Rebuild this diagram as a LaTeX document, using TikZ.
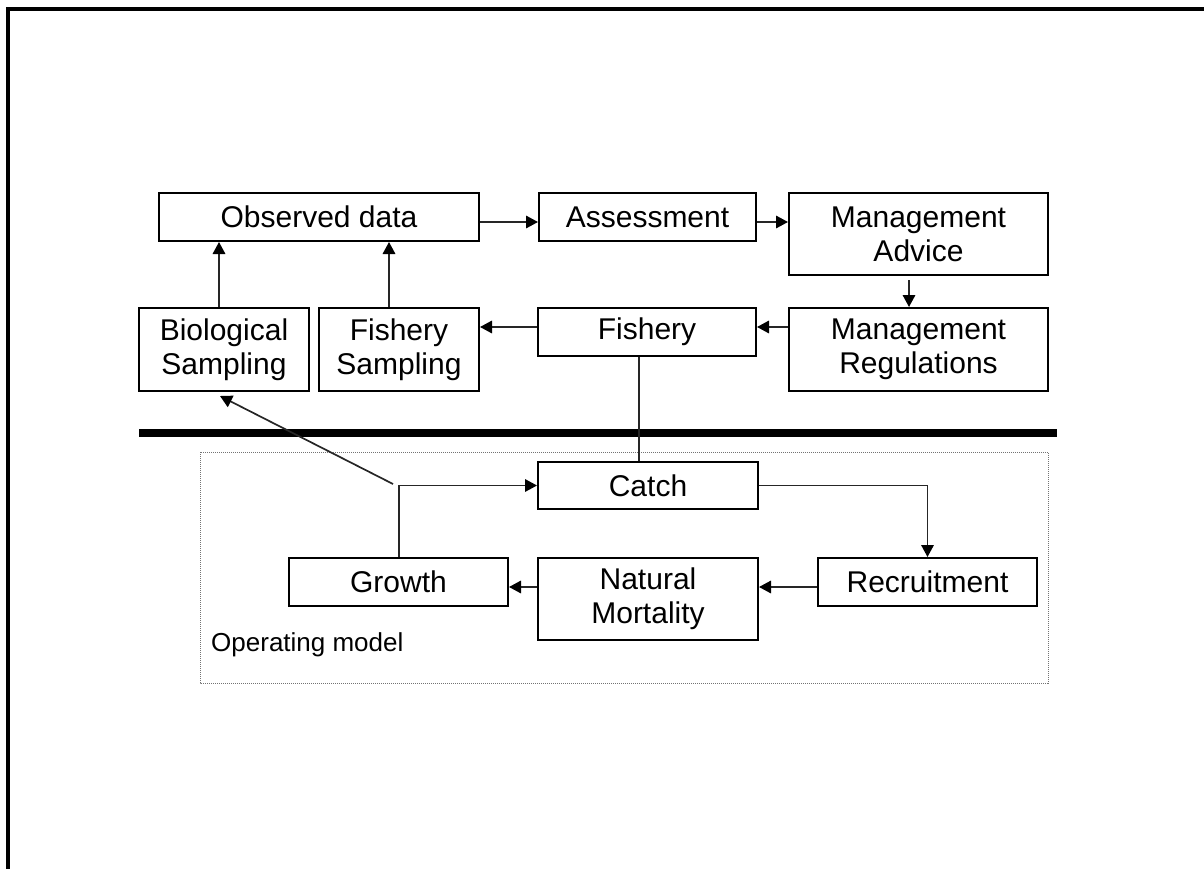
\documentclass[tikz,border=0pt]{standalone}
\usepackage{fontspec}
\setmainfont{Liberation Sans}
\usetikzlibrary{arrows.meta}
\begin{document}
\begin{tikzpicture}[x=1pt,y=-1pt,
  box/.style={draw,line width=2pt,inner sep=0pt,align=center,
    font=\fontsize{30}{34}\selectfont},
  conn/.style={line width=1.7pt,draw=black!85,-{Triangle[length=12pt,width=12.5pt,fill=black,color=black]}},
  plain/.style={line width=1.7pt,draw=black!85}]
\useasboundingbox (0,0) rectangle (1204,869);
% frame
\draw[line width=4pt,line join=miter] (8,869) -- (8,8.7) -- (1204,8.7);
% nodes
\node[box,minimum width=320pt,minimum height=48pt] (obs) at (319,217) {Observed data};
\node[box,minimum width=217pt,minimum height=48pt] (assess) at (647.5,217) {Assessment};
\node[box,minimum width=259pt,minimum height=82pt] (adv) at (918.5,234) {Management\\Advice};
\node[box,minimum width=259pt,minimum height=83pt] (reg) at (918.5,349.5) {Management\\Regulations};
\node[box,minimum width=170pt,minimum height=83pt] (bio) at (224,349.5) {Biological\\Sampling};
\node[box,minimum width=160pt,minimum height=83pt] (fsamp) at (399,349.5) {Fishery\\Sampling};
\node[box,minimum width=218pt,minimum height=48pt] (fishery) at (647,332) {Fishery};
\node[box,minimum width=220pt,minimum height=47pt] (catch) at (648,485.5) {Catch};
\node[box,minimum width=219pt,minimum height=48pt] (growth) at (398.5,582) {Growth};
\node[box,minimum width=220pt,minimum height=82pt] (natmort) at (648,599) {Natural\\Mortality};
\node[box,minimum width=219pt,minimum height=48pt] (recruit) at (927.5,582) {Recruitment};
% thick separator and dotted box
\draw[line width=8pt] (139,433) -- (1057,433);
\draw[densely dotted,line width=1pt,black!55] (200,452) rectangle (1048,683);
\node[anchor=west,inner sep=0pt,font=\fontsize{26}{30}\selectfont] (om) at (211,645) {Operating model};
% connectors
\draw[conn] (obs.east |- 0,222) -- (assess.west |- 0,222);
\draw[conn] (assess.east |- 0,222) -- (adv.west |- 0,222);
\draw[conn] ([xshift=-9.5pt,yshift=-4pt]adv.south) -- ([xshift=-9.5pt]reg.north);
\draw[conn] (reg.west |- 0,327) -- (fishery.east |- 0,327);
\draw[conn] (fishery.west |- 0,327) -- (fsamp.east |- 0,327);
\draw[conn] (bio.north -| 219,0) -- (obs.south -| 219,0);
\draw[conn] (fsamp.north -| 389,0) -- (obs.south -| 389,0);
\draw[plain] (fishery.south -| 639,0) -- (catch.north -| 639,0);
\draw[conn] (growth.north -| 399,0) |- (catch.west);
\coordinate (dstart) at (393,484);
\draw[conn] (dstart) -- ([yshift=-4pt]bio.south -| 220,0);
\draw[conn] (catch.east) -| (recruit.north);
\draw[conn] (recruit.west |- 0,587) -- (natmort.east |- 0,587);
\draw[conn] (natmort.west |- 0,587) -- (growth.east |- 0,587);
\end{tikzpicture}
\end{document}
